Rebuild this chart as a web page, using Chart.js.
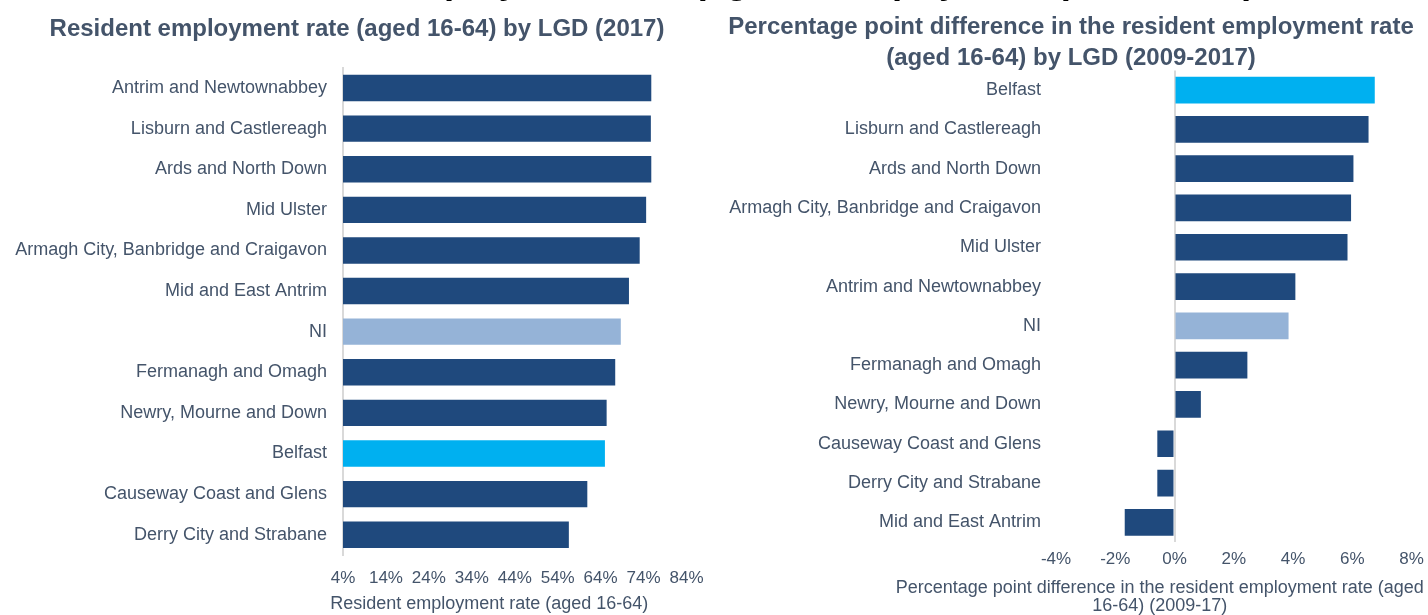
<!DOCTYPE html>
<html>
<head>
<meta charset="utf-8">
<script src="https://cdn.jsdelivr.net/npm/chart.js@4.4.1/dist/chart.umd.min.js"></script>
<style>
  html, body { margin: 0; padding: 0; background: #fff; overflow: hidden; }
  #page { position: relative; width: 1428px; height: 615px; overflow: hidden; }
  .box { position: absolute; top: 0; width: 714px; height: 615px; }
  #mainTitle {
    position: absolute; left: 227px; top: -37px; white-space: nowrap; color: #000;
    font: bold 36.5px/36.5px 'Liberation Sans', Arial, sans-serif;
  }
</style>
</head>
<body>
<div id="page">
  <div class="box" style="left:0"><canvas id="rateChart" width="714" height="615"></canvas></div>
  <div class="box" style="left:714px"><canvas id="diffChart" width="714" height="615"></canvas></div>
  <div id="mainTitle">Resident employment rate (aged 16-64) by LGD (2009-2017)</div>
</div>
<script>
// employment rate 2017, top to bottom
const rateLabels = ['Antrim and Newtownabbey', 'Lisburn and Castlereagh', 'Ards and North Down', 'Mid Ulster',
  'Armagh City, Banbridge and Craigavon', 'Mid and East Antrim', 'NI', 'Fermanagh and Omagh',
  'Newry, Mourne and Down', 'Belfast', 'Causeway Coast and Glens', 'Derry City and Strabane'];
const rateValues = [75.8, 75.7, 75.8, 74.6, 73.1, 70.6, 68.7, 67.4, 65.4, 65.0, 60.9, 56.6];
const rateTicks = [4, 14, 24, 34, 44, 54, 64, 74, 84];

// percentage point change 2009-2017
const diffLabels = ['Belfast', 'Lisburn and Castlereagh', 'Ards and North Down', 'Armagh City, Banbridge and Craigavon',
  'Mid Ulster', 'Antrim and Newtownabbey', 'NI', 'Fermanagh and Omagh', 'Newry, Mourne and Down',
  'Causeway Coast and Glens', 'Derry City and Strabane', 'Mid and East Antrim'];
const diffValues = [6.76, 6.55, 6.04, 5.96, 5.84, 4.08, 3.85, 2.46, 0.89, -0.58, -0.58, -1.68];
const diffTicks = [-4, -2, 0, 2, 4, 6, 8];

const FONT = "'Liberation Sans', Arial, sans-serif";
Chart.defaults.font.family = FONT;
Chart.defaults.color = '#44546A';

const barColour = name => name === 'Belfast' ? '#00B0F0' : (name === 'NI' ? '#95B3D7' : '#1F497D');

// axis titles sit a bit left of the plot centre in the original
const axisTitlePlugin = {
  id: 'axisTitle',
  afterDraw(chart, args, opts) {
    if (!opts.lines) return;
    const { ctx, chartArea } = chart;
    const x = (chartArea.left + chartArea.right) / 2 + opts.dx;
    ctx.save();
    ctx.font = opts.size + 'px ' + FONT;
    ctx.fillStyle = '#44546A';
    ctx.textAlign = 'center';
    ctx.textBaseline = 'middle';
    opts.lines.forEach((t, i) => ctx.fillText(t, x, opts.y + i * opts.lineHeight));
    ctx.restore();
  }
};

new Chart(document.getElementById('rateChart'), {
  type: 'bar',
  data: {
    labels: rateLabels,
    datasets: [{
      data: rateValues,
      backgroundColor: rateLabels.map(barColour),
      barPercentage: 0.65,
      categoryPercentage: 1
    }]
  },
  plugins: [axisTitlePlugin],
  options: {
    indexAxis: 'y',
    responsive: false,
    animation: false,
    layout: { padding: 0 },
    plugins: {
      legend: { display: false },
      tooltip: { enabled: false },
      title: {
        display: true,
        text: 'Resident employment rate (aged 16-64) by LGD (2017)',
        color: '#44546A',
        font: { size: 24, weight: 'bold', lineHeight: 1.2 },
        padding: { top: 14.6, bottom: 24.3 }
      },
      axisTitle: { lines: ['Resident employment rate (aged 16-64)'], dx: -25.5, y: 604, size: 18, lineHeight: 18 }
    },
    scales: {
      x: {
        type: 'linear',
        min: rateTicks[0],
        max: rateTicks[rateTicks.length - 1],
        afterBuildTicks: s => { s.ticks = rateTicks.map(v => ({ value: v })); },
        afterFit: s => { s.height = 60; s.paddingRight = 27.5; },
        grid: { display: false, drawTicks: false },
        border: { display: false },
        ticks: { padding: 13, font: { size: 17 }, autoSkip: false, maxRotation: 0, callback: v => v + '%' }
      },
      y: {
        afterFit: s => { s.width = 343; },
        grid: { display: false, drawTicks: false },
        border: { display: true, color: '#D9D9D9', width: 2 },
        ticks: { padding: 16, font: { size: 18 }, autoSkip: false }
      }
    }
  }
});

new Chart(document.getElementById('diffChart'), {
  type: 'bar',
  data: {
    labels: diffLabels,
    datasets: [{
      data: diffValues,
      backgroundColor: diffLabels.map(barColour),
      barPercentage: 0.68,
      categoryPercentage: 1
    }]
  },
  plugins: [axisTitlePlugin],
  options: {
    indexAxis: 'y',
    responsive: false,
    animation: false,
    layout: { padding: 0 },
    plugins: {
      legend: { display: false },
      tooltip: { enabled: false },
      title: {
        display: true,
        text: ['Percentage point difference in the resident employment rate', '(aged 16-64) by LGD (2009-2017)'],
        color: '#44546A',
        font: { size: 24, weight: 'bold', lineHeight: 1.3 },
        padding: { top: 11.4, bottom: -3.4 }
      },
      axisTitle: {
        lines: ['Percentage point difference in the resident employment rate (aged', '16-64) (2009-17)'],
        dx: -74, y: 588, size: 18, lineHeight: 18
      }
    },
    scales: {
      x: {
        type: 'linear',
        min: diffTicks[0],
        max: diffTicks[diffTicks.length - 1],
        afterBuildTicks: s => { s.ticks = diffTicks.map(v => ({ value: v })); },
        afterFit: s => { s.height = 73; s.paddingRight = 16.5; },
        grid: {
          drawTicks: false,
          lineWidth: 2,
          color: c => (c.tick && c.tick.value === 0) ? '#D9D9D9' : 'rgba(0,0,0,0)'
        },
        border: { display: false },
        ticks: { padding: 7, font: { size: 17 }, autoSkip: false, maxRotation: 0, callback: v => v + '%' }
      },
      y: {
        afterFit: s => { s.width = 342; },
        grid: { display: false, drawTicks: false },
        border: { display: false },
        ticks: { padding: 15, font: { size: 18 }, autoSkip: false }
      }
    }
  }
});
</script>
</body>
</html>
